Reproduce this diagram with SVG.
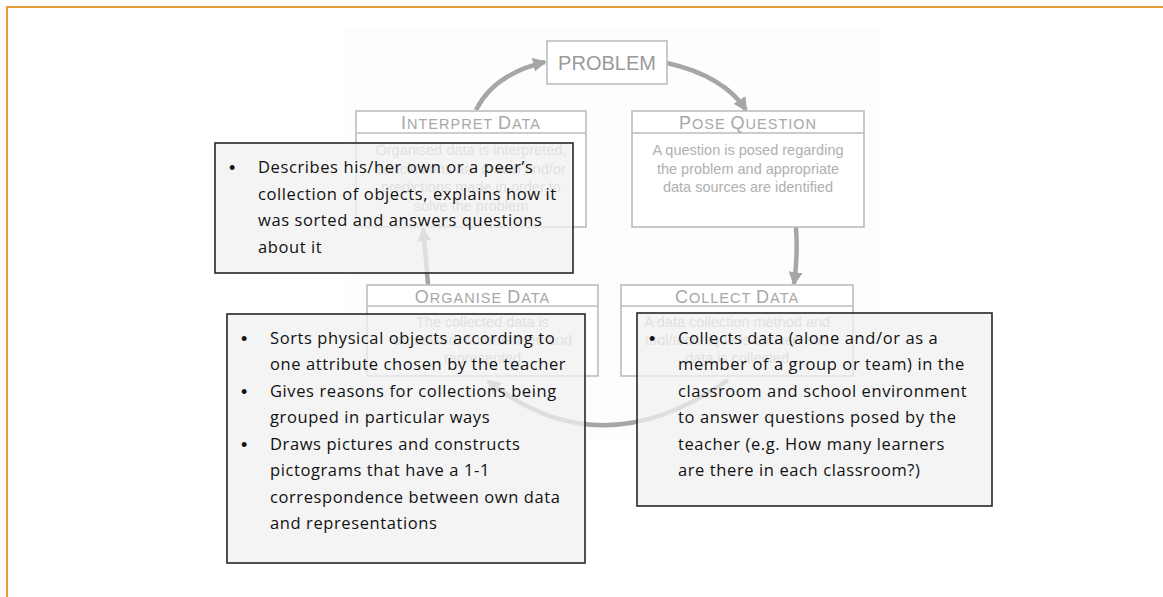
<svg xmlns="http://www.w3.org/2000/svg" width="1163" height="597" viewBox="0 0 1163 597">
<defs>
<marker id="ah" markerUnits="userSpaceOnUse" markerWidth="16" markerHeight="16" refX="12" refY="8" orient="auto">
<path d="M0,1 L14,8 L0,15 Z" fill="#a6a6a6"/>
</marker>
<style>
.frame{fill:none;stroke:#E49B3A;stroke-width:2.2}
.gbox{fill:#fff;stroke:#bdbdbd;stroke-width:1.6}
.gline{stroke:#bdbdbd;stroke-width:1.6}
.hdr{font-family:"Liberation Sans",Arial,sans-serif;fill:#a8a8a8;text-anchor:middle;letter-spacing:1px}
.big{font-size:18px}
.sm{font-size:14.5px}
.body{font-family:"Liberation Sans",Arial,sans-serif;font-size:14.5px;fill:#b0b0b0;text-anchor:middle}
.prob{font-family:"Liberation Sans",Arial,sans-serif;font-size:20px;fill:#9a9a9a;text-anchor:middle}
.conn{fill:none;stroke:#a6a6a6;stroke-width:4.5;marker-end:url(#ah)}
.note{fill:#f0f0f0;fill-opacity:0.75;stroke:#262626;stroke-width:1.6}
.nt{font-family:"Open Sans",Lato,sans-serif;font-size:16.5px;letter-spacing:0.6px;fill:#111}
.bl{font-family:"Liberation Sans",Arial,sans-serif;font-size:18px;fill:#111}
</style>
</defs>
<path class="frame" d="M7,597 V7 H1163"/>
<rect x="345" y="28" width="535" height="412" fill="#fdfdfd"/>

<g id="connectors">
<path class="conn" d="M476,110 Q494,74 545,62"/>
<path class="conn" d="M667,63 Q724,76 746,110"/>
<path class="conn" d="M796,227 Q798,256 794,284"/>
<path class="conn" d="M728,380 Q600,470 488,381"/>
<path class="conn" d="M428,285 Q426,258 423,229"/>
</g>

<g id="problem">
<rect class="gbox" x="547" y="41" width="120" height="43"/>
<text class="prob" x="607" y="70">PROBLEM</text>
</g>

<g id="interpret-data">
<rect class="gbox" x="356" y="111" width="230" height="116"/>
<line class="gline" x1="356" y1="133" x2="586" y2="133"/>
<text class="hdr" x="471" y="129"><tspan class="big">I</tspan><tspan class="sm">NTERPRET </tspan><tspan class="big">D</tspan><tspan class="sm">ATA</tspan></text>
<text class="body" x="471" y="155">Organised data is interpreted,</text>
<text class="body" x="471" y="173.5">conclusions are drawn and/or</text>
<text class="body" x="471" y="192">predictions made in order to</text>
<text class="body" x="471" y="210.5">solve the problem</text>
</g>

<g id="pose-question">
<rect class="gbox" x="632" y="111" width="232" height="116"/>
<line class="gline" x1="632" y1="133" x2="864" y2="133"/>
<text class="hdr" x="748" y="129"><tspan class="big">P</tspan><tspan class="sm">OSE </tspan><tspan class="big">Q</tspan><tspan class="sm">UESTION</tspan></text>
<text class="body" x="748" y="155">A question is posed regarding</text>
<text class="body" x="748" y="173.5">the problem and appropriate</text>
<text class="body" x="748" y="192">data sources are identified</text>
</g>

<g id="organise-data">
<rect class="gbox" x="367" y="285" width="231" height="91"/>
<line class="gline" x1="367" y1="306" x2="598" y2="306"/>
<text class="hdr" x="482.5" y="302.5"><tspan class="big">O</tspan><tspan class="sm">RGANISE </tspan><tspan class="big">D</tspan><tspan class="sm">ATA</tspan></text>
<text class="body" x="482.5" y="327">The collected data is</text>
<text class="body" x="482.5" y="345">organised, summarised and</text>
<text class="body" x="482.5" y="363">represented</text>
</g>

<g id="collect-data">
<rect class="gbox" x="621" y="285" width="232" height="91"/>
<line class="gline" x1="621" y1="306" x2="853" y2="306"/>
<text class="hdr" x="737" y="302.5"><tspan class="big">C</tspan><tspan class="sm">OLLECT </tspan><tspan class="big">D</tspan><tspan class="sm">ATA</tspan></text>
<text class="body" x="737" y="327">A data collection method and</text>
<text class="body" x="737" y="345">tool/technique is chosen and</text>
<text class="body" x="737" y="363">data is collected</text>
</g>

<g id="note-interpret">
<rect class="note" x="215" y="143" width="358" height="130"/>
<text class="bl" x="229" y="174">•</text>
<text class="nt" x="258" y="173">Describes his/her own or a peer’s</text>
<text class="nt" x="258" y="199.5">collection of objects, explains how it</text>
<text class="nt" x="258" y="226">was sorted and answers questions</text>
<text class="nt" x="258" y="252.5">about it</text>
</g>

<g id="note-organise">
<rect class="note" x="227" y="314" width="358" height="249"/>
<text class="bl" x="241" y="344.5">•</text>
<text class="nt" x="270" y="343.5">Sorts physical objects according to</text>
<text class="nt" x="270" y="370">one attribute chosen by the teacher</text>
<text class="bl" x="241" y="397.5">•</text>
<text class="nt" x="270" y="396.5">Gives reasons for collections being</text>
<text class="nt" x="270" y="423">grouped in particular ways</text>
<text class="bl" x="241" y="450.5">•</text>
<text class="nt" x="270" y="449.5">Draws pictures and constructs</text>
<text class="nt" x="270" y="476">pictograms that have a 1-1</text>
<text class="nt" x="270" y="502.5">correspondence between own data</text>
<text class="nt" x="270" y="529">and representations</text>
</g>

<g id="note-collect">
<rect class="note" x="637" y="313" width="355" height="193"/>
<text class="bl" x="649" y="344.5">•</text>
<text class="nt" x="678" y="343.5">Collects data (alone and/or as a</text>
<text class="nt" x="678" y="370">member of a group or team) in the</text>
<text class="nt" x="678" y="396.5">classroom and school environment</text>
<text class="nt" x="678" y="423">to answer questions posed by the</text>
<text class="nt" x="678" y="449.5">teacher (e.g. How many learners</text>
<text class="nt" x="678" y="476">are there in each classroom?)</text>
</g>
</svg>
